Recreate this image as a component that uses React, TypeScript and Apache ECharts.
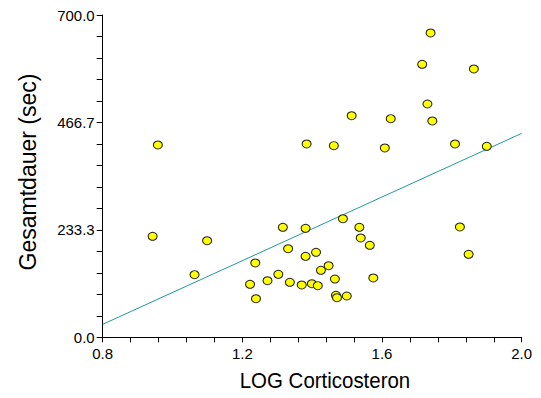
import React, { useEffect, useRef } from "react";
import * as echarts from "echarts";

const xValues: number[] = [
  0.958, 0.943, 1.099, 1.063, 1.237, 1.222, 1.239, 1.272, 1.316, 1.381,
  1.488, 1.535, 1.539, 1.565, 1.331, 1.381, 1.411, 1.447, 1.425, 1.303,
  1.336, 1.37, 1.399, 1.416, 1.465, 1.575, 1.468, 1.471, 1.499, 1.739,
  1.715, 1.863, 1.73, 1.625, 1.744, 1.608, 1.809, 1.9, 1.513, 1.384,
  1.462, 1.823, 1.848,
];
const yValues: number[] = [
  417.7, 219.4, 209.8, 136, 161.4, 115.1, 83.8, 122.9, 238.9, 236.8,
  257.6, 238.9, 215.7, 199.8, 192.4, 175.9, 184.6, 155.5, 145.5, 136.8,
  119.5, 113.6, 116.4, 112.1, 126.6, 128.8, 91.2, 86, 89.7, 661,
  593, 582.8, 506.7, 474.8, 469.8, 411.2, 419.9, 414.9, 481.3, 419.9,
  416.2, 239.6, 180.3,
];
const fitX: number[] = [0.8, 2.0];
const fitY: number[] = [28.2, 443];

const xAxisTitle = "LOG Corticosteron";
const yAxisTitle = "Gesamtdauer (sec)";

export default function App() {
  const ref = useRef<HTMLDivElement>(null);
  useEffect(() => {
    if (!ref.current) return;
    const chart = echarts.init(ref.current, undefined, { renderer: "svg" });
    const font = "'Liberation Sans', Arial, sans-serif";
    chart.setOption({
      animation: false,
      grid: { left: 102.7, right: 19.3, top: 15, bottom: 60.7 },
      graphic: [
        {
          type: "text",
          x: 325,
          y: 380.5,
          scaleX: 0.93,
          style: {
            text: xAxisTitle,
            fontSize: 22,
            fontFamily: font,
            fill: "#000",
            align: "center",
            verticalAlign: "middle",
          },
        },
        {
          type: "text",
          x: 28,
          y: 172,
          rotation: Math.PI / 2,
          style: {
            text: yAxisTitle,
            fontSize: 23,
            fontFamily: font,
            fill: "#000",
            align: "center",
            verticalAlign: "middle",
          },
        },
      ],
      xAxis: {
        type: "value",
        min: 0.8,
        max: 2.0,
        interval: 0.4,
        axisLine: { show: true, onZero: false, lineStyle: { color: "#000", width: 1 } },
        axisTick: { show: true, length: 5, lineStyle: { color: "#000" } },
        minorTick: { show: true, splitNumber: 5, length: 5, lineStyle: { color: "#000" } },
        splitLine: { show: false },
        axisLabel: {
          color: "#000",
          fontSize: 15,
          fontFamily: font,
          margin: 9,
          formatter: (v: number) => v.toFixed(1),
        },
      },
      yAxis: {
        type: "value",
        min: 0,
        max: 700,
        interval: 700 / 3,
        axisLine: { show: true, onZero: false, lineStyle: { color: "#000", width: 1 } },
        axisTick: { show: true, length: 6, lineStyle: { color: "#000" } },
        minorTick: { show: true, splitNumber: 5, length: 6, lineStyle: { color: "#000" } },
        splitLine: { show: false },
        axisLabel: {
          color: "#000",
          fontSize: 15,
          fontFamily: font,
          margin: 8,
          formatter: (v: number) => v.toFixed(1),
        },
      },
      series: [
        {
          type: "line",
          data: fitX.map((x, i) => [x, fitY[i]]),
          showSymbol: false,
          symbol: "none",
          lineStyle: { color: "#1f9a9a", width: 1 },
          z: 1,
        },
        {
          type: "scatter",
          data: xValues.map((x, i) => [x, yValues[i]]),
          symbol: "circle",
          symbolSize: [9, 8],
          itemStyle: { color: "#ffff00", borderColor: "#222", borderWidth: 1, opacity: 1 },
          z: 2,
        },
      ],
    });
    return () => chart.dispose();
  }, []);
  return <div ref={ref} style={{ width: 541, height: 398, position: "absolute", left: 0, top: 0 }} />;
}
